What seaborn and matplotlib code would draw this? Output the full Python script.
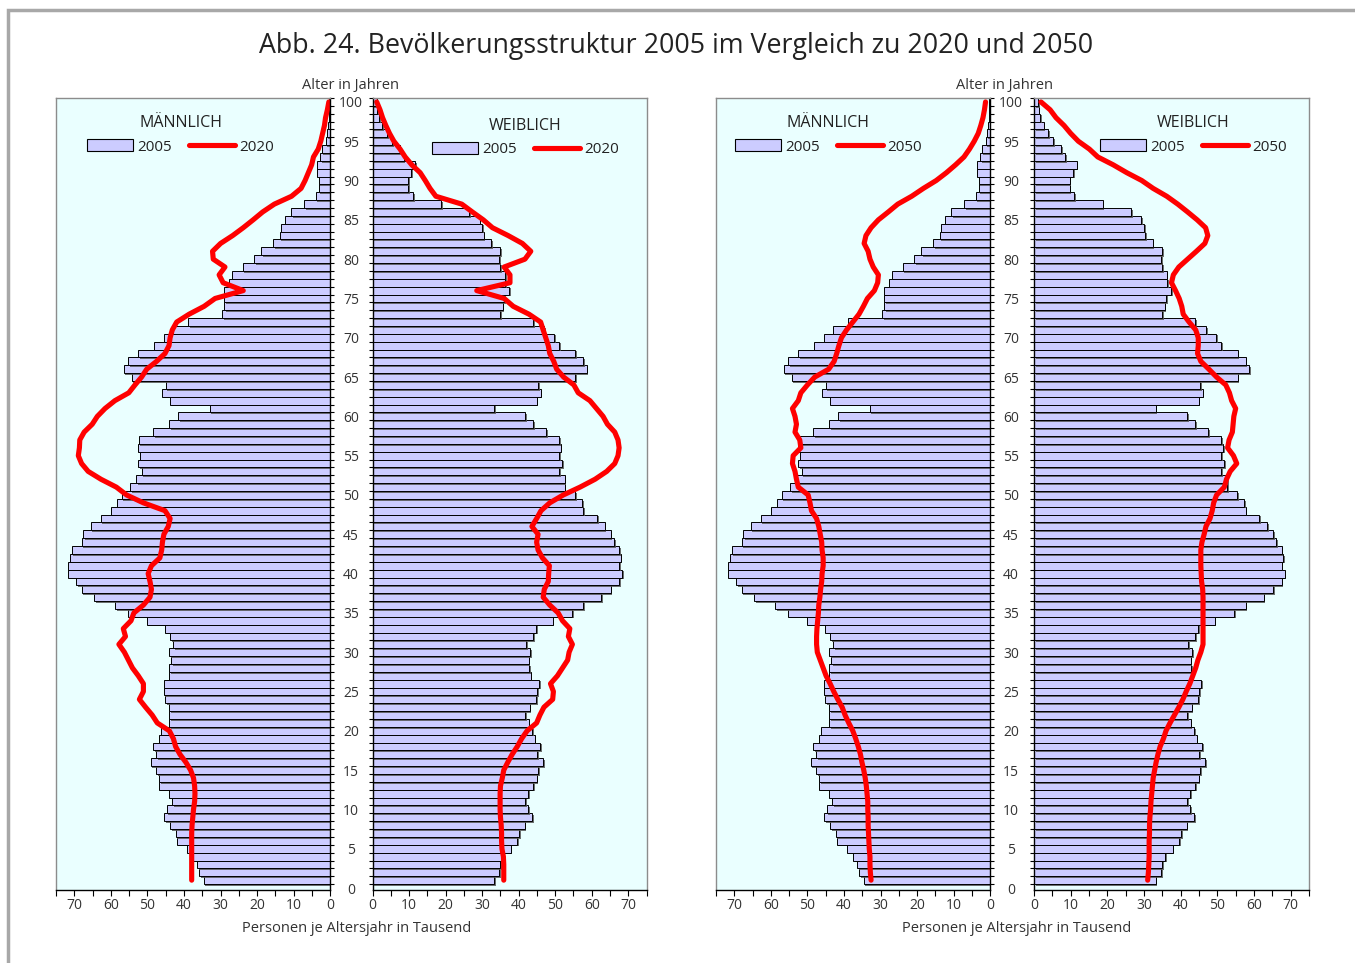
import numpy as np
import matplotlib
matplotlib.use("Agg")
import matplotlib.pyplot as plt
import seaborn as sns
from matplotlib import patheffects as pe
from matplotlib.patches import Patch, Rectangle
from matplotlib.lines import Line2D
from matplotlib.ticker import FixedLocator, MultipleLocator

# ---- data: persons per single year of age, in thousands ----
ages = list(range(1, 101))

male_2005 = [
    34.6, 35.9, 36.4, 37.5, 39.2, 41.8, 42.3, 43.8, 45.4, 44.7,
    43.2, 44.2, 46.8, 46.8, 47.7, 49.1, 47.7, 48.5, 46.9, 46.3,
    44.0, 44.0, 44.0, 45.1, 45.6, 45.6, 44.1, 44.1, 43.6, 44.1,
    42.9, 43.8, 45.2, 50.0, 55.2, 58.8, 64.6, 68.0, 69.4, 71.6,
    71.6, 71.2, 70.7, 68.0, 67.5, 65.5, 62.8, 60.0, 58.3, 57.0,
    54.8, 53.1, 51.6, 52.5, 52.0, 52.7, 52.4, 48.5, 44.1, 41.6,
    33.0, 43.7, 46.1, 45.0, 54.3, 56.5, 55.2, 52.6, 48.3, 45.4,
    43.0, 38.8, 29.5, 29.0, 29.0, 29.0, 27.6, 26.8, 24.0, 20.9,
    18.9, 15.7, 13.8, 13.4, 12.5, 10.7, 7.1, 4.0, 3.2, 3.2,
    3.5, 3.5, 2.7, 2.4, 1.3, 1.0, 0.6, 0.4, 0.3, 0.3,
]

female_2005 = [
    33.2, 34.6, 34.9, 35.7, 37.8, 39.6, 40.1, 41.6, 43.6, 42.5,
    41.8, 42.5, 44.0, 44.9, 45.4, 46.7, 45.1, 45.8, 44.4, 43.6,
    42.7, 41.8, 43.0, 44.7, 45.0, 45.6, 43.3, 42.9, 42.7, 43.1,
    42.0, 43.9, 44.7, 49.3, 54.6, 57.7, 62.6, 65.2, 67.5, 68.4,
    67.5, 67.9, 67.5, 66.1, 65.2, 63.5, 61.4, 57.7, 57.3, 55.4,
    52.6, 52.6, 51.1, 51.9, 51.1, 51.5, 51.1, 47.5, 44.0, 41.7,
    33.2, 44.9, 46.0, 45.4, 55.5, 58.6, 57.7, 55.5, 51.0, 49.7,
    47.0, 44.0, 35.0, 35.6, 36.1, 37.4, 36.3, 36.2, 34.9, 34.6,
    34.9, 32.4, 30.4, 30.0, 29.3, 26.5, 18.7, 11.0, 9.7, 9.7,
    10.6, 11.6, 8.5, 7.4, 5.3, 3.9, 2.6, 1.7, 1.3, 1.1,
]

male_2020 = [
    37.9, 37.9, 37.9, 37.9, 37.9, 37.9, 37.9, 37.8, 37.6, 37.4,
    37.1, 37.0, 37.1, 37.4, 38.2, 39.5, 41.1, 42.3, 42.9, 44.0,
    47.3, 48.7, 50.5, 52.2, 51.1, 51.1, 52.5, 54.1, 55.2, 56.3,
    57.8, 56.0, 56.6, 54.5, 53.7, 51.1, 49.3, 48.9, 49.3, 49.8,
    48.9, 46.6, 46.1, 45.9, 45.5, 44.3, 43.8, 45.2, 51.1, 55.7,
    58.5, 62.7, 66.2, 68.0, 68.9, 68.6, 68.5, 67.3, 65.1, 63.7,
    61.6, 58.9, 55.1, 53.4, 51.6, 50.2, 47.5, 45.2, 44.1, 43.8,
    43.2, 42.0, 38.6, 34.5, 31.5, 23.8, 29.3, 30.4, 28.8, 32.0,
    32.2, 30.0, 26.7, 23.8, 21.1, 18.5, 15.3, 10.6, 8.0, 6.9,
    6.0, 5.1, 4.6, 3.3, 2.6, 2.1, 1.6, 1.3, 0.8, 0.4,
]

female_2020 = [
    35.9, 35.9, 35.9, 35.8, 35.4, 35.3, 35.3, 35.2, 35.0, 34.9,
    34.9, 34.9, 35.0, 35.5, 35.9, 37.0, 38.2, 39.6, 40.8, 42.3,
    44.9, 45.8, 46.9, 49.3, 49.5, 48.7, 50.6, 52.0, 53.4, 53.8,
    54.7, 53.6, 54.0, 52.0, 50.8, 48.5, 46.7, 47.0, 48.1, 48.2,
    48.4, 46.5, 45.3, 44.9, 45.3, 43.6, 44.9, 46.1, 48.5, 52.2,
    56.8, 60.9, 64.1, 66.3, 67.2, 67.5, 67.2, 66.3, 64.3, 63.1,
    61.3, 59.5, 56.3, 55.1, 52.3, 50.4, 49.6, 48.5, 48.1, 47.4,
    46.7, 46.0, 42.8, 38.5, 36.0, 28.5, 37.6, 37.6, 36.0, 41.7,
    43.3, 41.0, 37.1, 32.8, 30.3, 27.3, 24.4, 17.3, 15.7, 14.4,
    13.0, 10.7, 8.9, 7.5, 5.8, 4.6, 3.6, 2.7, 2.0, 1.1,
]

male_2050 = [
    32.6, 32.8, 32.9, 32.9, 33.1, 33.2, 33.3, 33.4, 33.4, 33.5,
    33.5, 33.7, 33.9, 34.2, 34.6, 35.1, 35.5, 36.1, 36.8, 37.6,
    38.7, 39.7, 40.5, 41.7, 42.8, 43.8, 44.9, 45.7, 46.5, 47.3,
    47.5, 47.5, 47.4, 47.2, 47.0, 46.9, 46.6, 46.4, 46.1, 46.0,
    45.7, 45.7, 46.0, 46.1, 46.5, 46.9, 47.5, 48.9, 49.3, 49.8,
    52.5, 53.0, 53.4, 54.1, 53.9, 51.8, 52.1, 53.4, 53.0, 53.4,
    54.1, 52.5, 51.8, 50.0, 48.0, 44.2, 42.7, 42.0, 41.4, 40.7,
    39.3, 37.6, 35.9, 34.7, 33.6, 31.7, 30.8, 30.6, 32.0, 32.9,
    33.4, 34.5, 34.0, 32.6, 30.6, 27.9, 25.3, 21.5, 18.3, 14.8,
    12.0, 9.5, 7.2, 5.7, 4.4, 3.3, 2.6, 2.0, 1.6, 1.3,
]

female_2050 = [
    31.0, 31.2, 31.3, 31.4, 31.4, 31.4, 31.5, 31.5, 31.6, 31.8,
    31.9, 32.1, 32.3, 32.5, 32.9, 33.3, 33.8, 34.4, 35.3, 36.0,
    37.1, 38.3, 39.5, 40.6, 41.5, 42.5, 43.3, 44.1, 44.7, 45.5,
    46.1, 46.1, 46.1, 46.1, 46.1, 46.1, 46.1, 46.0, 45.7, 45.6,
    45.5, 45.5, 45.5, 45.8, 46.4, 46.9, 48.0, 48.6, 49.0, 49.8,
    51.9, 52.5, 53.5, 55.3, 54.4, 52.8, 53.2, 54.1, 54.3, 54.5,
    55.0, 53.9, 53.3, 52.3, 49.8, 47.7, 45.5, 44.6, 44.8, 44.8,
    44.1, 42.3, 40.7, 40.3, 39.6, 38.6, 37.5, 38.0, 39.5, 41.9,
    44.3, 46.6, 47.4, 46.8, 44.5, 41.9, 39.2, 36.2, 32.5, 29.4,
    25.3, 21.6, 17.4, 15.1, 12.1, 10.0, 8.2, 6.0, 4.4, 1.9,
]

age_ticks = list(range(0, 101, 5))
value_ticks = list(range(0, 71, 10))

TITLE = "Abb. 24. Bevölkerungsstruktur 2005 im Vergleich zu 2020 und 2050"
Y_TITLE = "Alter in Jahren"
X_TITLE = "Personen je Altersjahr in Tausend"

# ---- style ----
sns.set_theme(style="white")
plt.rcParams["font.family"] = ["Open Sans", "DejaVu Sans"]

BAR_COLOR = "#CCCCFF"
PLOT_BG = "#EAFFFF"
LINE_RED = "#FF0000"
FRAME_GRAY = "#8C8C8C"
TEXT = "#222222"

W, H = 1355, 963
fig = plt.figure(figsize=(W / 100, H / 100), dpi=100)
fig.patch.set_facecolor("white")


def add_panel(x0, x1, y_top=98, y_bot=890):
    return fig.add_axes([x0 / W, 1 - y_bot / H, (x1 - x0) / W, (y_bot - y_top) / H])


def draw_half(ax, bars, line, side, line_label, title, legend_xy):
    sns.barplot(x=bars, y=ages, orient="h", native_scale=True, width=1.0,
                color=BAR_COLOR, saturation=1, edgecolor="black",
                linewidth=0.7, errorbar=None, ax=ax)
    for patch in ax.patches:
        patch.set_path_effects([
            pe.SimplePatchShadow(offset=(1.2, -1.2), shadow_rgbFace="#555555", alpha=0.85),
            pe.Normal(),
        ])
    sns.lineplot(x=line, y=ages, orient="y", estimator=None, color=LINE_RED,
                 linewidth=3.7, ax=ax)

    ax.set_facecolor(PLOT_BG)
    ax.set_ylim(-0.25, 100.5)
    ax.set_xlim((75, 0) if side == "male" else (0, 75))
    ax.set_xlabel("")
    ax.set_ylabel("")

    # x axis
    ax.xaxis.set_major_locator(FixedLocator(value_ticks))
    ax.xaxis.set_minor_locator(MultipleLocator(5))
    ax.tick_params(axis="x", which="both", bottom=True, direction="out",
                   length=4, width=0.8, color="black", labelsize=10,
                   labelcolor="#333333", pad=2)

    # y axis: one tick per age step at the bar boundaries
    ax.yaxis.set_major_locator(FixedLocator(age_ticks))
    ax.yaxis.set_minor_locator(FixedLocator(np.arange(0.5, 101, 1.0)))
    for sp in ax.spines.values():
        sp.set_linewidth(1.0)
        sp.set_color(FRAME_GRAY)
        sp.set_visible(True)
    ax.spines["bottom"].set_color("black")
    if side == "male":
        ax.spines["right"].set_color("black")
        ax.tick_params(axis="y", which="both", left=False, right=True,
                       labelleft=False, labelright=True, direction="out",
                       color="black", width=0.8)
        ax.tick_params(axis="y", which="major", length=0, pad=14.9,
                       labelsize=10, labelcolor="#333333")
        ax.tick_params(axis="y", which="minor", length=3)
        ax.set_yticklabels([str(t) for t in age_ticks])
        for lab in ax.get_yticklabels():
            lab.set_horizontalalignment("center")
    else:
        ax.spines["left"].set_color("black")
        ax.tick_params(axis="y", which="both", left=True, right=False,
                       labelleft=False, labelright=False, direction="out",
                       color="black", width=0.8)
        ax.tick_params(axis="y", which="major", length=0)
        ax.tick_params(axis="y", which="minor", length=3)

    handles = [Patch(facecolor=BAR_COLOR, edgecolor="black", linewidth=0.8),
               Line2D([], [], color=LINE_RED, linewidth=3.7)]
    leg = ax.legend(handles, ["2005", line_label], title=title, ncol=2,
                    loc="upper left", bbox_to_anchor=legend_xy, frameon=False,
                    fontsize=11, title_fontsize=11.5, handlelength=3.0,
                    handleheight=0.8, handletextpad=0.3, columnspacing=1.1,
                    borderpad=0, borderaxespad=0, labelspacing=0.55)
    for t in leg.get_texts():
        t.set_color(TEXT)
    leg.get_title().set_color(TEXT)


panels = [
    (56.0, 330.3, male_2005, male_2020, "male", "2020", "MÄNNLICH", (0.113, 0.9785)),
    (372.7, 646.5, female_2005, female_2020, "female", "2020", "WEIBLICH", (0.217, 0.975)),
    (716.0, 990.3, male_2005, male_2050, "male", "2050", "MÄNNLICH", (0.069, 0.9785)),
    (1034.0, 1309.0, female_2005, female_2050, "female", "2050", "WEIBLICH", (0.240, 0.9785)),
]
for x0, x1, bars, line, side, lab, title, lxy in panels:
    ax = add_panel(x0, x1)
    draw_half(ax, bars, line, side, lab, title, lxy)

# titles and axis captions
fig.text(676.5 / W, 1 - 46 / H, TITLE, ha="center", va="center",
         fontsize=19.3, color=TEXT)
for cx in (350.5, 1005.0):
    fig.text(cx / W, 1 - 85 / H, Y_TITLE, ha="center", va="center",
             fontsize=10.5, color="#333333")
for cx in (357.0, 1017.0):
    fig.text(cx / W, 1 - 928 / H, X_TITLE, ha="center", va="center",
             fontsize=10.5, color="#333333")

# page frame
fig.add_artist(Rectangle((8 / W, -0.5), 1.5, 1.5 - 10 / H,
                         transform=fig.transFigure, fill=False,
                         edgecolor="#A8A8A8", linewidth=2.5))

fig.savefig("out.png", dpi=100, facecolor="white")
